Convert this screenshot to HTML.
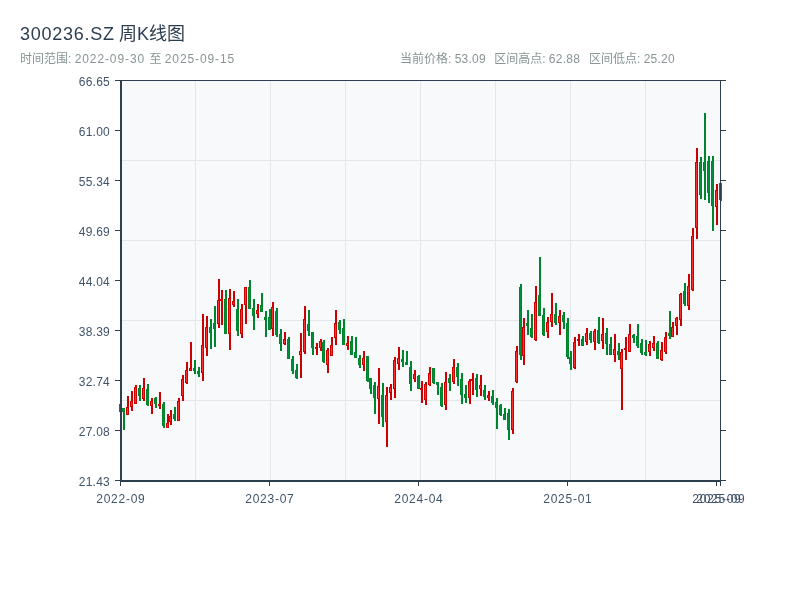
<!DOCTYPE html>
<html lang="zh-CN">
<head>
<meta charset="utf-8">
<title>300236.SZ 周K线图</title>
<style>
html,body{margin:0;padding:0;background:#fff;}
body{width:800px;height:600px;position:relative;overflow:hidden;font-family:"Liberation Sans","Noto Sans CJK SC",sans-serif;}
.chart{position:absolute;left:0;top:0;display:block;}
.r{fill:#cc0000;}.r .i{fill:#ff2e2e;}.g{fill:#00852f;}.g .i{fill:#008e3c;}
.title{position:absolute;left:20px;top:22.8px;margin:0;font-size:18px;line-height:22px;font-weight:400;color:#2c3e50;white-space:nowrap;word-spacing:-0.8px;}
.title .l{letter-spacing:0.75px;}
.sub{position:absolute;top:51px;font-size:12px;line-height:16px;color:#889495;white-space:nowrap;}
.n{letter-spacing:0.23px;}
.z{margin-left:1px;}
.d{letter-spacing:0.9px;}
.dx{letter-spacing:0.75px;margin-left:0.75px;}
.xl,.yl{position:absolute;font-size:12px;line-height:16px;color:#40546a;white-space:nowrap;}
.xl{top:490.5px;width:80px;text-align:center;}
.yl{left:30px;width:80px;text-align:right;}
</style>
</head>
<body>
<svg class="chart" width="800" height="600" viewBox="0 0 800 600">
<rect x="120" y="80" width="601" height="401" fill="#f8f9fa"/>
<g fill="#e3e6ea"><rect x="195" y="81" width="1" height="399"/><rect x="270" y="81" width="1" height="399"/><rect x="345" y="81" width="1" height="399"/><rect x="420" y="81" width="1" height="399"/><rect x="495" y="81" width="1" height="399"/><rect x="570" y="81" width="1" height="399"/><rect x="645" y="81" width="1" height="399"/><rect x="122" y="160" width="598" height="1"/><rect x="122" y="240" width="598" height="1"/><rect x="122" y="320" width="598" height="1"/><rect x="122" y="400" width="598" height="1"/></g>
<g class="candles"><g class="g"><rect x="120" y="404" width="2" height="8"/><rect x="119" y="404" width="3" height="8"/><rect class="i" x="120" y="405" width="1" height="6"/></g>
<g class="g"><rect x="123" y="408" width="2" height="22"/><rect x="122" y="408" width="3" height="4"/><rect class="i" x="123" y="409" width="1" height="2"/></g>
<g class="r"><rect x="127" y="396" width="2" height="19"/><rect x="126" y="407" width="3" height="8"/><rect class="i" x="127" y="408" width="1" height="6"/></g>
<g class="r"><rect x="131" y="391" width="2" height="20"/><rect x="130" y="401" width="3" height="6"/><rect class="i" x="131" y="402" width="1" height="4"/></g>
<g class="r"><rect x="135" y="385" width="2" height="19"/><rect x="134" y="387" width="3" height="17"/><rect class="i" x="135" y="388" width="1" height="15"/></g>
<g class="g"><rect x="139" y="385" width="2" height="16"/><rect x="138" y="388" width="3" height="8"/><rect class="i" x="139" y="389" width="1" height="6"/></g>
<g class="r"><rect x="143" y="378" width="2" height="23"/><rect x="142" y="388" width="3" height="11"/><rect class="i" x="143" y="389" width="1" height="9"/></g>
<g class="g"><rect x="147" y="384" width="2" height="22"/><rect x="146" y="389" width="3" height="16"/><rect class="i" x="147" y="390" width="1" height="14"/></g>
<g class="r"><rect x="151" y="398" width="2" height="16"/><rect x="150" y="401" width="3" height="5"/><rect class="i" x="151" y="402" width="1" height="3"/></g>
<g class="g"><rect x="155" y="397" width="2" height="11"/><rect x="154" y="398" width="3" height="6"/><rect class="i" x="155" y="399" width="1" height="4"/></g>
<g class="r"><rect x="159" y="392" width="2" height="17"/><rect x="158" y="404" width="3" height="2"/></g>
<g class="g"><rect x="163" y="402" width="2" height="26"/><rect x="162" y="404" width="3" height="22"/><rect class="i" x="163" y="405" width="1" height="20"/></g>
<g class="r"><rect x="167" y="414" width="2" height="14"/><rect x="166" y="423" width="3" height="5"/><rect class="i" x="167" y="424" width="1" height="3"/></g>
<g class="r"><rect x="170" y="410" width="2" height="15"/><rect x="169" y="416" width="3" height="6"/><rect class="i" x="170" y="417" width="1" height="4"/></g>
<g class="g"><rect x="174" y="407" width="2" height="14"/><rect x="173" y="414" width="3" height="5"/><rect class="i" x="174" y="415" width="1" height="3"/></g>
<g class="r"><rect x="178" y="398" width="2" height="23"/><rect x="177" y="401" width="3" height="20"/><rect class="i" x="178" y="402" width="1" height="18"/></g>
<g class="r"><rect x="182" y="375" width="2" height="26"/><rect x="181" y="379" width="3" height="17"/><rect class="i" x="182" y="380" width="1" height="15"/></g>
<g class="r"><rect x="186" y="362" width="2" height="22"/><rect x="185" y="370" width="3" height="13"/><rect class="i" x="186" y="371" width="1" height="11"/></g>
<g class="r"><rect x="190" y="342" width="2" height="29"/><rect x="189" y="368" width="3" height="3"/><rect class="i" x="190" y="369" width="1" height="1"/></g>
<g class="g"><rect x="194" y="360" width="2" height="14"/><rect x="193" y="368" width="3" height="3"/><rect class="i" x="194" y="369" width="1" height="1"/></g>
<g class="g"><rect x="198" y="367" width="2" height="10"/><rect x="197" y="371" width="3" height="3"/><rect class="i" x="198" y="372" width="1" height="1"/></g>
<g class="r"><rect x="202" y="314" width="2" height="67"/><rect x="201" y="345" width="3" height="28"/><rect class="i" x="202" y="346" width="1" height="26"/></g>
<g class="r"><rect x="206" y="316" width="2" height="40"/><rect x="205" y="327" width="3" height="21"/><rect class="i" x="206" y="328" width="1" height="19"/></g>
<g class="g"><rect x="210" y="319" width="2" height="30"/><rect x="209" y="327" width="3" height="6"/><rect class="i" x="210" y="328" width="1" height="4"/></g>
<g class="g"><rect x="214" y="306" width="2" height="41"/><rect x="213" y="323" width="3" height="6"/><rect class="i" x="214" y="324" width="1" height="4"/></g>
<g class="r"><rect x="218" y="279" width="2" height="49"/><rect x="217" y="300" width="3" height="24"/><rect class="i" x="218" y="301" width="1" height="22"/></g>
<g class="r"><rect x="221" y="290" width="2" height="35"/><rect x="220" y="299" width="3" height="2"/></g>
<g class="g"><rect x="225" y="290" width="2" height="44"/><rect x="224" y="299" width="3" height="35"/><rect class="i" x="225" y="300" width="1" height="33"/></g>
<g class="r"><rect x="229" y="289" width="2" height="61"/><rect x="228" y="298" width="3" height="36"/><rect class="i" x="229" y="299" width="1" height="34"/></g>
<g class="r"><rect x="233" y="291" width="2" height="16"/><rect x="232" y="301" width="3" height="4"/><rect class="i" x="233" y="302" width="1" height="2"/></g>
<g class="g"><rect x="237" y="299" width="2" height="37"/><rect x="236" y="309" width="3" height="22"/><rect class="i" x="237" y="310" width="1" height="20"/></g>
<g class="r"><rect x="241" y="304" width="2" height="34"/><rect x="240" y="309" width="3" height="25"/><rect class="i" x="241" y="310" width="1" height="23"/></g>
<g class="r"><rect x="245" y="287" width="2" height="37"/><rect x="244" y="287" width="3" height="18"/><rect class="i" x="245" y="288" width="1" height="16"/></g>
<g class="g"><rect x="249" y="280" width="2" height="29"/><rect x="248" y="287" width="3" height="22"/><rect class="i" x="249" y="288" width="1" height="20"/></g>
<g class="g"><rect x="253" y="299" width="2" height="31"/><rect x="252" y="308" width="3" height="8"/><rect class="i" x="253" y="309" width="1" height="6"/></g>
<g class="r"><rect x="257" y="304" width="2" height="14"/><rect x="256" y="310" width="3" height="4"/><rect class="i" x="257" y="311" width="1" height="2"/></g>
<g class="g"><rect x="261" y="293" width="2" height="19"/><rect x="260" y="305" width="3" height="7"/><rect class="i" x="261" y="306" width="1" height="5"/></g>
<g class="g"><rect x="265" y="311" width="2" height="26"/><rect x="264" y="317" width="3" height="3"/><rect class="i" x="265" y="318" width="1" height="1"/></g>
<g class="g"><rect x="269" y="309" width="2" height="21"/><rect x="268" y="317" width="3" height="13"/><rect class="i" x="269" y="318" width="1" height="11"/></g>
<g class="r"><rect x="272" y="302" width="2" height="34"/><rect x="271" y="307" width="3" height="22"/><rect class="i" x="272" y="308" width="1" height="20"/></g>
<g class="g"><rect x="276" y="308" width="2" height="29"/><rect x="275" y="311" width="3" height="24"/><rect class="i" x="276" y="312" width="1" height="22"/></g>
<g class="g"><rect x="280" y="329" width="2" height="22"/><rect x="279" y="334" width="3" height="10"/><rect class="i" x="280" y="335" width="1" height="8"/></g>
<g class="r"><rect x="284" y="332" width="2" height="13"/><rect x="283" y="339" width="3" height="5"/><rect class="i" x="284" y="340" width="1" height="3"/></g>
<g class="g"><rect x="288" y="337" width="2" height="22"/><rect x="287" y="339" width="3" height="20"/><rect class="i" x="288" y="340" width="1" height="18"/></g>
<g class="g"><rect x="292" y="356" width="2" height="18"/><rect x="291" y="359" width="3" height="12"/><rect class="i" x="292" y="360" width="1" height="10"/></g>
<g class="g"><rect x="296" y="364" width="2" height="15"/><rect x="295" y="370" width="3" height="8"/><rect class="i" x="296" y="371" width="1" height="6"/></g>
<g class="r"><rect x="300" y="333" width="2" height="45"/><rect x="299" y="351" width="3" height="4"/><rect class="i" x="300" y="352" width="1" height="2"/></g>
<g class="r"><rect x="304" y="306" width="2" height="48"/><rect x="303" y="319" width="3" height="33"/><rect class="i" x="304" y="320" width="1" height="31"/></g>
<g class="g"><rect x="308" y="310" width="2" height="26"/><rect x="307" y="324" width="3" height="7"/><rect class="i" x="308" y="325" width="1" height="5"/></g>
<g class="g"><rect x="312" y="332" width="2" height="23"/><rect x="311" y="332" width="3" height="16"/><rect class="i" x="312" y="333" width="1" height="14"/></g>
<g class="r"><rect x="316" y="343" width="2" height="12"/><rect x="315" y="347" width="3" height="2"/></g>
<g class="r"><rect x="320" y="339" width="2" height="12"/><rect x="319" y="341" width="3" height="7"/><rect class="i" x="320" y="342" width="1" height="5"/></g>
<g class="g"><rect x="323" y="340" width="2" height="23"/><rect x="322" y="342" width="3" height="20"/><rect class="i" x="323" y="343" width="1" height="18"/></g>
<g class="r"><rect x="327" y="348" width="2" height="25"/><rect x="326" y="350" width="3" height="15"/><rect class="i" x="327" y="351" width="1" height="13"/></g>
<g class="r"><rect x="331" y="337" width="2" height="19"/><rect x="330" y="345" width="3" height="11"/><rect class="i" x="331" y="346" width="1" height="9"/></g>
<g class="r"><rect x="335" y="310" width="2" height="35"/><rect x="334" y="323" width="3" height="15"/><rect class="i" x="335" y="324" width="1" height="13"/></g>
<g class="g"><rect x="339" y="320" width="2" height="14"/><rect x="338" y="322" width="3" height="8"/><rect class="i" x="339" y="323" width="1" height="6"/></g>
<g class="g"><rect x="343" y="319" width="2" height="26"/><rect x="342" y="328" width="3" height="17"/><rect class="i" x="343" y="329" width="1" height="15"/></g>
<g class="r"><rect x="347" y="336" width="2" height="14"/><rect x="346" y="343" width="3" height="3"/><rect class="i" x="347" y="344" width="1" height="1"/></g>
<g class="g"><rect x="351" y="336" width="2" height="19"/><rect x="350" y="341" width="3" height="14"/><rect class="i" x="351" y="342" width="1" height="12"/></g>
<g class="g"><rect x="355" y="337" width="2" height="21"/><rect x="354" y="352" width="3" height="6"/><rect class="i" x="355" y="353" width="1" height="4"/></g>
<g class="g"><rect x="359" y="355" width="2" height="13"/><rect x="358" y="358" width="3" height="7"/><rect class="i" x="359" y="359" width="1" height="5"/></g>
<g class="r"><rect x="363" y="351" width="2" height="20"/><rect x="362" y="358" width="3" height="7"/><rect class="i" x="363" y="359" width="1" height="5"/></g>
<g class="g"><rect x="367" y="356" width="2" height="26"/><rect x="366" y="356" width="3" height="25"/><rect class="i" x="367" y="357" width="1" height="23"/></g>
<g class="g"><rect x="370" y="378" width="2" height="16"/><rect x="369" y="378" width="3" height="11"/><rect class="i" x="370" y="379" width="1" height="9"/></g>
<g class="g"><rect x="374" y="382" width="2" height="32"/><rect x="373" y="385" width="3" height="13"/><rect class="i" x="374" y="386" width="1" height="11"/></g>
<g class="r"><rect x="378" y="368" width="2" height="56"/><rect x="377" y="386" width="3" height="13"/><rect class="i" x="378" y="387" width="1" height="11"/></g>
<g class="g"><rect x="382" y="383" width="2" height="44"/><rect x="381" y="395" width="3" height="22"/><rect class="i" x="382" y="396" width="1" height="20"/></g>
<g class="r"><rect x="386" y="387" width="2" height="60"/><rect x="385" y="395" width="3" height="27"/><rect class="i" x="386" y="396" width="1" height="25"/></g>
<g class="r"><rect x="390" y="384" width="2" height="16"/><rect x="389" y="387" width="3" height="6"/><rect class="i" x="390" y="388" width="1" height="4"/></g>
<g class="r"><rect x="394" y="357" width="2" height="41"/><rect x="393" y="360" width="3" height="29"/><rect class="i" x="394" y="361" width="1" height="27"/></g>
<g class="r"><rect x="398" y="347" width="2" height="23"/><rect x="397" y="358" width="3" height="6"/><rect class="i" x="398" y="359" width="1" height="4"/></g>
<g class="g"><rect x="402" y="350" width="2" height="17"/><rect x="401" y="359" width="3" height="3"/><rect class="i" x="402" y="360" width="1" height="1"/></g>
<g class="g"><rect x="406" y="351" width="2" height="14"/><rect x="405" y="362" width="3" height="3"/><rect class="i" x="406" y="363" width="1" height="1"/></g>
<g class="g"><rect x="410" y="361" width="2" height="30"/><rect x="409" y="367" width="3" height="17"/><rect class="i" x="410" y="368" width="1" height="15"/></g>
<g class="r"><rect x="414" y="370" width="2" height="12"/><rect x="413" y="374" width="3" height="5"/><rect class="i" x="414" y="375" width="1" height="3"/></g>
<g class="g"><rect x="418" y="375" width="2" height="14"/><rect x="417" y="376" width="3" height="13"/><rect class="i" x="418" y="377" width="1" height="11"/></g>
<g class="r"><rect x="421" y="381" width="2" height="22"/><rect x="420" y="388" width="3" height="2"/></g>
<g class="r"><rect x="425" y="382" width="2" height="23"/><rect x="424" y="384" width="3" height="16"/><rect class="i" x="425" y="385" width="1" height="14"/></g>
<g class="r"><rect x="429" y="367" width="2" height="19"/><rect x="428" y="373" width="3" height="12"/><rect class="i" x="429" y="374" width="1" height="10"/></g>
<g class="g"><rect x="433" y="368" width="2" height="16"/><rect x="432" y="368" width="3" height="15"/><rect class="i" x="433" y="369" width="1" height="13"/></g>
<g class="g"><rect x="437" y="382" width="2" height="13"/><rect x="436" y="382" width="3" height="3"/><rect class="i" x="437" y="383" width="1" height="1"/></g>
<g class="g"><rect x="441" y="383" width="2" height="24"/><rect x="440" y="387" width="3" height="19"/><rect class="i" x="441" y="388" width="1" height="17"/></g>
<g class="r"><rect x="445" y="372" width="2" height="38"/><rect x="444" y="382" width="3" height="23"/><rect class="i" x="445" y="383" width="1" height="21"/></g>
<g class="g"><rect x="449" y="374" width="2" height="17"/><rect x="448" y="378" width="3" height="5"/><rect class="i" x="449" y="379" width="1" height="3"/></g>
<g class="r"><rect x="453" y="359" width="2" height="25"/><rect x="452" y="367" width="3" height="15"/><rect class="i" x="453" y="368" width="1" height="13"/></g>
<g class="g"><rect x="457" y="363" width="2" height="23"/><rect x="456" y="367" width="3" height="10"/><rect class="i" x="457" y="368" width="1" height="8"/></g>
<g class="g"><rect x="461" y="373" width="2" height="31"/><rect x="460" y="379" width="3" height="16"/><rect class="i" x="461" y="380" width="1" height="14"/></g>
<g class="g"><rect x="465" y="385" width="2" height="18"/><rect x="464" y="394" width="3" height="4"/><rect class="i" x="465" y="395" width="1" height="2"/></g>
<g class="r"><rect x="469" y="379" width="2" height="25"/><rect x="468" y="381" width="3" height="17"/><rect class="i" x="469" y="382" width="1" height="15"/></g>
<g class="r"><rect x="472" y="373" width="2" height="22"/><rect x="471" y="379" width="3" height="2"/></g>
<g class="g"><rect x="476" y="374" width="2" height="23"/><rect x="475" y="378" width="3" height="12"/><rect class="i" x="476" y="379" width="1" height="10"/></g>
<g class="r"><rect x="480" y="375" width="2" height="21"/><rect x="479" y="385" width="3" height="4"/><rect class="i" x="480" y="386" width="1" height="2"/></g>
<g class="g"><rect x="484" y="385" width="2" height="15"/><rect x="483" y="390" width="3" height="7"/><rect class="i" x="484" y="391" width="1" height="5"/></g>
<g class="r"><rect x="488" y="391" width="2" height="10"/><rect x="487" y="395" width="3" height="3"/><rect class="i" x="488" y="396" width="1" height="1"/></g>
<g class="g"><rect x="492" y="390" width="2" height="15"/><rect x="491" y="396" width="3" height="7"/><rect class="i" x="492" y="397" width="1" height="5"/></g>
<g class="g"><rect x="496" y="398" width="2" height="31"/><rect x="495" y="402" width="3" height="6"/><rect class="i" x="496" y="403" width="1" height="4"/></g>
<g class="g"><rect x="500" y="404" width="2" height="12"/><rect x="499" y="405" width="3" height="10"/><rect class="i" x="500" y="406" width="1" height="8"/></g>
<g class="g"><rect x="504" y="408" width="2" height="12"/><rect x="503" y="414" width="3" height="6"/><rect class="i" x="504" y="415" width="1" height="4"/></g>
<g class="g"><rect x="508" y="409" width="2" height="31"/><rect x="507" y="413" width="3" height="17"/><rect class="i" x="508" y="414" width="1" height="15"/></g>
<g class="r"><rect x="512" y="388" width="2" height="46"/><rect x="511" y="391" width="3" height="39"/><rect class="i" x="512" y="392" width="1" height="37"/></g>
<g class="r"><rect x="516" y="346" width="2" height="37"/><rect x="515" y="351" width="3" height="31"/><rect class="i" x="516" y="352" width="1" height="29"/></g>
<g class="g"><rect x="520" y="284" width="2" height="76"/><rect x="519" y="287" width="3" height="68"/><rect class="i" x="520" y="288" width="1" height="66"/></g>
<g class="r"><rect x="523" y="318" width="2" height="47"/><rect x="522" y="327" width="3" height="29"/><rect class="i" x="523" y="328" width="1" height="27"/></g>
<g class="g"><rect x="527" y="310" width="2" height="25"/><rect x="526" y="323" width="3" height="3"/><rect class="i" x="527" y="324" width="1" height="1"/></g>
<g class="g"><rect x="531" y="314" width="2" height="24"/><rect x="530" y="328" width="3" height="9"/><rect class="i" x="531" y="329" width="1" height="7"/></g>
<g class="r"><rect x="535" y="286" width="2" height="55"/><rect x="534" y="302" width="3" height="38"/><rect class="i" x="535" y="303" width="1" height="36"/></g>
<g class="g"><rect x="539" y="257" width="2" height="59"/><rect x="538" y="295" width="3" height="21"/><rect class="i" x="539" y="296" width="1" height="19"/></g>
<g class="g"><rect x="543" y="308" width="2" height="28"/><rect x="542" y="315" width="3" height="20"/><rect class="i" x="543" y="316" width="1" height="18"/></g>
<g class="r"><rect x="547" y="317" width="2" height="21"/><rect x="546" y="322" width="3" height="10"/><rect class="i" x="547" y="323" width="1" height="8"/></g>
<g class="r"><rect x="551" y="293" width="2" height="34"/><rect x="550" y="314" width="3" height="8"/><rect class="i" x="551" y="315" width="1" height="6"/></g>
<g class="g"><rect x="555" y="303" width="2" height="22"/><rect x="554" y="314" width="3" height="9"/><rect class="i" x="555" y="315" width="1" height="7"/></g>
<g class="r"><rect x="559" y="310" width="2" height="25"/><rect x="558" y="316" width="3" height="7"/><rect class="i" x="559" y="317" width="1" height="5"/></g>
<g class="g"><rect x="563" y="312" width="2" height="17"/><rect x="562" y="315" width="3" height="7"/><rect class="i" x="563" y="316" width="1" height="5"/></g>
<g class="g"><rect x="567" y="318" width="2" height="41"/><rect x="566" y="323" width="3" height="34"/><rect class="i" x="567" y="324" width="1" height="32"/></g>
<g class="g"><rect x="570" y="351" width="2" height="19"/><rect x="569" y="357" width="3" height="7"/><rect class="i" x="570" y="358" width="1" height="5"/></g>
<g class="r"><rect x="574" y="337" width="2" height="32"/><rect x="573" y="342" width="3" height="26"/><rect class="i" x="574" y="343" width="1" height="24"/></g>
<g class="r"><rect x="578" y="334" width="2" height="12"/><rect x="577" y="339" width="3" height="2"/></g>
<g class="g"><rect x="582" y="336" width="2" height="10"/><rect x="581" y="339" width="3" height="7"/><rect class="i" x="582" y="340" width="1" height="5"/></g>
<g class="r"><rect x="586" y="328" width="2" height="17"/><rect x="585" y="333" width="3" height="9"/><rect class="i" x="586" y="334" width="1" height="7"/></g>
<g class="g"><rect x="590" y="331" width="2" height="12"/><rect x="589" y="333" width="3" height="7"/><rect class="i" x="590" y="334" width="1" height="5"/></g>
<g class="r"><rect x="594" y="329" width="2" height="21"/><rect x="593" y="331" width="3" height="11"/><rect class="i" x="594" y="332" width="1" height="9"/></g>
<g class="g"><rect x="598" y="317" width="2" height="27"/><rect x="597" y="330" width="3" height="13"/><rect class="i" x="598" y="331" width="1" height="11"/></g>
<g class="r"><rect x="602" y="318" width="2" height="31"/><rect x="601" y="334" width="3" height="7"/><rect class="i" x="602" y="335" width="1" height="5"/></g>
<g class="g"><rect x="606" y="328" width="2" height="27"/><rect x="605" y="333" width="3" height="11"/><rect class="i" x="606" y="334" width="1" height="9"/></g>
<g class="g"><rect x="610" y="337" width="2" height="18"/><rect x="609" y="344" width="3" height="11"/><rect class="i" x="610" y="345" width="1" height="9"/></g>
<g class="r"><rect x="614" y="334" width="2" height="28"/><rect x="613" y="349" width="3" height="6"/><rect class="i" x="614" y="350" width="1" height="4"/></g>
<g class="g"><rect x="618" y="343" width="2" height="17"/><rect x="617" y="351" width="3" height="4"/><rect class="i" x="618" y="352" width="1" height="2"/></g>
<g class="r"><rect x="621" y="349" width="2" height="61"/><rect x="620" y="352" width="3" height="17"/><rect class="i" x="621" y="353" width="1" height="15"/></g>
<g class="r"><rect x="625" y="337" width="2" height="23"/><rect x="624" y="348" width="3" height="2"/></g>
<g class="r"><rect x="629" y="324" width="2" height="28"/><rect x="628" y="334" width="3" height="18"/><rect class="i" x="629" y="335" width="1" height="16"/></g>
<g class="g"><rect x="633" y="334" width="2" height="9"/><rect x="632" y="335" width="3" height="3"/><rect class="i" x="633" y="336" width="1" height="1"/></g>
<g class="g"><rect x="637" y="324" width="2" height="24"/><rect x="636" y="336" width="3" height="10"/><rect class="i" x="637" y="337" width="1" height="8"/></g>
<g class="g"><rect x="641" y="339" width="2" height="16"/><rect x="640" y="343" width="3" height="10"/><rect class="i" x="641" y="344" width="1" height="8"/></g>
<g class="g"><rect x="645" y="340" width="2" height="16"/><rect x="644" y="352" width="3" height="3"/><rect class="i" x="645" y="353" width="1" height="1"/></g>
<g class="r"><rect x="649" y="341" width="2" height="15"/><rect x="648" y="344" width="3" height="8"/><rect class="i" x="649" y="345" width="1" height="6"/></g>
<g class="r"><rect x="653" y="336" width="2" height="15"/><rect x="652" y="343" width="3" height="5"/><rect class="i" x="653" y="344" width="1" height="3"/></g>
<g class="g"><rect x="657" y="341" width="2" height="18"/><rect x="656" y="343" width="3" height="16"/><rect class="i" x="657" y="344" width="1" height="14"/></g>
<g class="r"><rect x="661" y="342" width="2" height="19"/><rect x="660" y="350" width="3" height="10"/><rect class="i" x="661" y="351" width="1" height="8"/></g>
<g class="r"><rect x="665" y="332" width="2" height="22"/><rect x="664" y="337" width="3" height="15"/><rect class="i" x="665" y="338" width="1" height="13"/></g>
<g class="g"><rect x="669" y="311" width="2" height="28"/><rect x="668" y="333" width="3" height="3"/><rect class="i" x="669" y="334" width="1" height="1"/></g>
<g class="r"><rect x="672" y="322" width="2" height="15"/><rect x="671" y="327" width="3" height="10"/><rect class="i" x="672" y="328" width="1" height="8"/></g>
<g class="r"><rect x="676" y="317" width="2" height="18"/><rect x="675" y="318" width="3" height="8"/><rect class="i" x="676" y="319" width="1" height="6"/></g>
<g class="r"><rect x="680" y="293" width="2" height="33"/><rect x="679" y="294" width="3" height="26"/><rect class="i" x="680" y="295" width="1" height="24"/></g>
<g class="g"><rect x="684" y="283" width="2" height="23"/><rect x="683" y="291" width="3" height="13"/><rect class="i" x="684" y="292" width="1" height="11"/></g>
<g class="r"><rect x="688" y="274" width="2" height="36"/><rect x="687" y="286" width="3" height="20"/><rect class="i" x="688" y="287" width="1" height="18"/></g>
<g class="r"><rect x="692" y="228" width="2" height="63"/><rect x="691" y="236" width="3" height="54"/><rect class="i" x="692" y="237" width="1" height="52"/></g>
<g class="r"><rect x="696" y="148" width="2" height="91"/><rect x="695" y="162" width="3" height="66"/><rect class="i" x="696" y="163" width="1" height="64"/></g>
<g class="g"><rect x="700" y="157" width="2" height="42"/><rect x="699" y="162" width="3" height="33"/><rect class="i" x="700" y="163" width="1" height="31"/></g>
<g class="g"><rect x="704" y="113" width="2" height="87"/><rect x="703" y="162" width="3" height="9"/><rect class="i" x="704" y="163" width="1" height="7"/></g>
<g class="g"><rect x="708" y="156" width="2" height="47"/><rect x="707" y="161" width="3" height="32"/><rect class="i" x="708" y="162" width="1" height="30"/></g>
<g class="g"><rect x="712" y="156" width="2" height="75"/><rect x="711" y="161" width="3" height="45"/><rect class="i" x="712" y="162" width="1" height="43"/></g>
<g class="r"><rect x="716" y="184" width="2" height="41"/><rect x="715" y="190" width="3" height="17"/><rect class="i" x="716" y="191" width="1" height="15"/></g>
<g class="g"><rect x="720" y="183" width="2" height="18"/><rect x="719" y="183" width="3" height="17"/><rect class="i" x="720" y="184" width="1" height="15"/></g></g>
<g fill="#2c3e50"><rect x="120" y="80" width="601" height="1"/><rect x="720" y="80" width="1" height="401"/><rect x="120" y="80" width="2" height="402"/><rect x="120" y="480" width="601" height="2"/><rect x="115" y="80" width="5" height="1"/><rect x="721" y="80" width="5" height="1"/><rect x="115" y="130" width="5" height="1"/><rect x="721" y="130" width="5" height="1"/><rect x="115" y="180" width="5" height="1"/><rect x="721" y="180" width="5" height="1"/><rect x="115" y="230" width="5" height="1"/><rect x="721" y="230" width="5" height="1"/><rect x="115" y="280" width="5" height="1"/><rect x="721" y="280" width="5" height="1"/><rect x="115" y="330" width="5" height="1"/><rect x="721" y="330" width="5" height="1"/><rect x="115" y="380" width="5" height="1"/><rect x="721" y="380" width="5" height="1"/><rect x="115" y="430" width="5" height="1"/><rect x="721" y="430" width="5" height="1"/><rect x="115" y="480" width="5" height="1"/><rect x="721" y="480" width="5" height="1"/><rect x="120" y="482" width="1" height="4"/><rect x="269" y="482" width="1" height="4"/><rect x="418" y="482" width="1" height="4"/><rect x="567" y="482" width="1" height="4"/><rect x="716" y="482" width="1" height="4"/><rect x="720" y="482" width="1" height="4"/></g>
</svg>
<h1 class="title"><span class="l">300236.SZ</span> 周K线图</h1>
<div class="sub" style="left:20px">时间范围: <span class="d">2022-09-30</span> <span class="z">至</span> <span class="d">2025-09-15</span></div>
<div class="sub" style="left:400px">当前价格: <span class="n">53.09</span></div>
<div class="sub" style="left:494.2px">区间高点: <span class="n">62.88</span></div>
<div class="sub" style="left:589px">区间低点: <span class="n">25.20</span></div>
<div class="yl" style="top:74px"><span class="n">66.65</span></div><div class="yl" style="top:124px"><span class="n">61.00</span></div><div class="yl" style="top:174px"><span class="n">55.34</span></div><div class="yl" style="top:224px"><span class="n">49.69</span></div><div class="yl" style="top:274px"><span class="n">44.04</span></div><div class="yl" style="top:324px"><span class="n">38.39</span></div><div class="yl" style="top:374px"><span class="n">32.74</span></div><div class="yl" style="top:424px"><span class="n">27.08</span></div><div class="yl" style="top:474px"><span class="n">21.43</span></div>
<div class="xl" style="left:80.5px"><span class="dx">2022-09</span></div><div class="xl" style="left:229.5px"><span class="dx">2023-07</span></div><div class="xl" style="left:378.5px"><span class="dx">2024-04</span></div><div class="xl" style="left:527.5px"><span class="dx">2025-01</span></div><div class="xl" style="left:676.5px"><span class="dx">2025-09</span></div><div class="xl" style="left:680.5px"><span class="dx">2025-09</span></div>
</body>
</html>
